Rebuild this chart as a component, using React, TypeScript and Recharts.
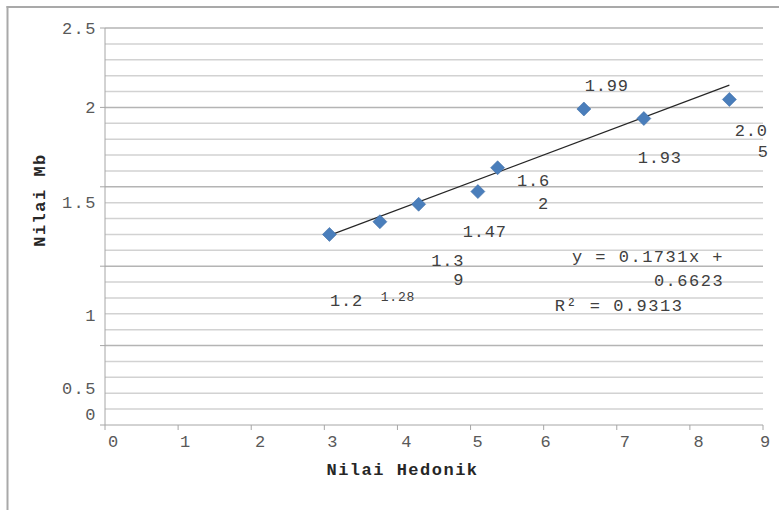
import React from 'react';
import { ScatterChart, Scatter, XAxis, YAxis, ReferenceLine } from 'recharts';

// ---- data ----
const hedonik = [3.07, 3.76, 4.29, 5.1, 5.37, 6.55, 7.37, 8.54];
const nilaiMb = [1.2, 1.28, 1.39, 1.47, 1.62, 1.99, 1.93, 2.05];
const labelLines = [['1.2'], ['1.28'], ['1.3', '9'], ['1.47'], ['1.6', '2'], ['1.99'], ['1.93'], ['2.0', '5']];
const xTicks = [0, 1, 2, 3, 4, 5, 6, 7, 8, 9];
const yTicks = [0, 0.5, 1, 1.5, 2, 2.5];
const gridValues = [0.1, 0.2, 0.3, 0.4, 0.5, 0.6, 0.7, 0.8, 0.9, 1.0, 1.1, 1.2, 1.3, 1.4, 1.5, 1.6, 1.7, 1.8, 1.9, 2.0, 2.1, 2.2, 2.3, 2.4, 2.5];
const trendStart = { x: 3.07, y: 1.194 };
const trendEnd = { x: 8.54, y: 2.14 };
const equationLines = ['y = 0.1731x +', '0.6623', 'R² = 0.9313'];
const xTitle = 'Nilai Hedonik';
const yTitle = 'Nilai Mb';

// ---- styling (label offsets relative to each point / tick, px) ----
const labelOffsets: number[][][] = [
  [[17, 67]],
  [[18, 76]],
  [[29, 57], [40, 76]],
  [[7, 41]],
  [[36, 14], [46, 37]],
  [[23, -22]],
  [[16, 40]],
  [[22, 32], [34, 53]],
];
const labelSizes = [17, 13, 17, 17, 17, 17, 17, 17];
const yLabelShift: Record<string, number> = { '2.5': 1.7, '2': 0.6, '1.5': 17, '1': 50, '0.5': 43.5, '0': -9.3 };
const xLabelShift: Record<string, number> = { '0': 8, '1': 7, '2': 9, '3': 8, '4': 9, '5': 7, '6': 2, '7': 8, '8': 8.7, '9': 2 };

const FONT = '"Liberation Mono", "Courier New", monospace';
const BLUE = '#4a7ebb';

const rows = hedonik.map((x, i) => ({ x, y: nilaiMb[i], i }));

const DiamondWithLabel = (props: any) => {
  const { cx, cy, payload } = props;
  if (cx == null || cy == null) return null;
  const i = payload.i;
  const s = 7;
  return (
    <g>
      <polygon points={`${cx},${cy - s} ${cx + s},${cy} ${cx},${cy + s} ${cx - s},${cy}`} fill={BLUE} stroke="#3f6fa8" strokeWidth={0.6} />
      {labelLines[i].map((t, k) => (
        <text
          key={k}
          x={cx + labelOffsets[i][k][0]}
          y={cy + labelOffsets[i][k][1]}
          textAnchor="middle"
          dominantBaseline="central"
          fontFamily={FONT}
          fontSize={labelSizes[i]}
          letterSpacing={0.8}
          fill="#404040"
        >
          {t}
        </text>
      ))}
    </g>
  );
};

const YTick = (props: any) => {
  const { x, y, payload } = props;
  const key = String(payload.value);
  return (
    <text x={x - 1} y={y + (yLabelShift[key] ?? 0)} textAnchor="end" dominantBaseline="central" fontFamily={FONT} fontSize={17} letterSpacing={1.5} fill="#595959">
      {key}
    </text>
  );
};

const XTick = (props: any) => {
  const { x, y, payload } = props;
  const key = String(payload.value);
  return (
    <text x={x + (xLabelShift[key] ?? 7)} y={y + 10.7} textAnchor="middle" dominantBaseline="central" fontFamily={FONT} fontSize={17} fill="#595959">
      {key}
    </text>
  );
};

export default function App() {
  return (
    <div style={{ position: 'absolute', left: 0, top: 0, width: 779, height: 510, background: '#fff' }}>
      <ScatterChart width={779} height={510} margin={{ top: 28, right: 16, bottom: 25, left: 0 }}>
        <XAxis
          type="number"
          dataKey="x"
          domain={[0, 9]}
          ticks={xTicks}
          interval={0}
          height={60}
          stroke="#a6a6a6"
          tickSize={5}
          tick={<XTick />}
        />
        <YAxis
          type="number"
          dataKey="y"
          domain={[0, 2.5]}
          ticks={yTicks}
          interval={0}
          width={105}
          stroke="#a6a6a6"
          tickSize={5}
          tick={<YTick />}
        />
        {gridValues.map((v) => (
          <ReferenceLine
            key={v}
            y={v}
            stroke={Math.abs(v * 2 - Math.round(v * 2)) < 1e-6 ? '#b4b4b4' : '#d2d2d2'}
            strokeWidth={1.5}
          />
        ))}
        <ReferenceLine segment={[trendStart, trendEnd]} stroke="#262626" strokeWidth={1.2} />
        <Scatter data={rows} isAnimationActive={false} shape={<DiamondWithLabel />} />
      </ScatterChart>
      <svg width={779} height={510} style={{ position: 'absolute', left: 0, top: 0, pointerEvents: 'none' }}>
        <line x1={7.5} y1={6} x2={7.5} y2={510} stroke="#a9a9a9" strokeWidth={2} />
        <line x1={6.5} y1={7} x2={779} y2={7} stroke="#a9a9a9" strokeWidth={2} />
        <text x={402.5} y={470} textAnchor="middle" dominantBaseline="central" fontFamily={FONT} fontSize={17} fontWeight="bold" letterSpacing={1.5} fill="#262626">
          {xTitle}
        </text>
        <text
          x={40}
          y={200}
          transform="rotate(-90 40 200)"
          textAnchor="middle"
          dominantBaseline="central"
          fontFamily={FONT}
          fontSize={17}
          fontWeight="bold"
          letterSpacing={1.5}
          fill="#262626"
        >
          {yTitle}
        </text>
        <text x={648} y={257} textAnchor="middle" dominantBaseline="central" fontFamily={FONT} fontSize={17} letterSpacing={1.5} fill="#404040">
          {equationLines[0]}
        </text>
        <text x={689} y={281} textAnchor="middle" dominantBaseline="central" fontFamily={FONT} fontSize={17} letterSpacing={1.5} fill="#404040">
          {equationLines[1]}
        </text>
        <text x={619} y={306} textAnchor="middle" dominantBaseline="central" fontFamily={FONT} fontSize={17} letterSpacing={1.5} fill="#404040">
          {equationLines[2]}
        </text>
      </svg>
    </div>
  );
}
